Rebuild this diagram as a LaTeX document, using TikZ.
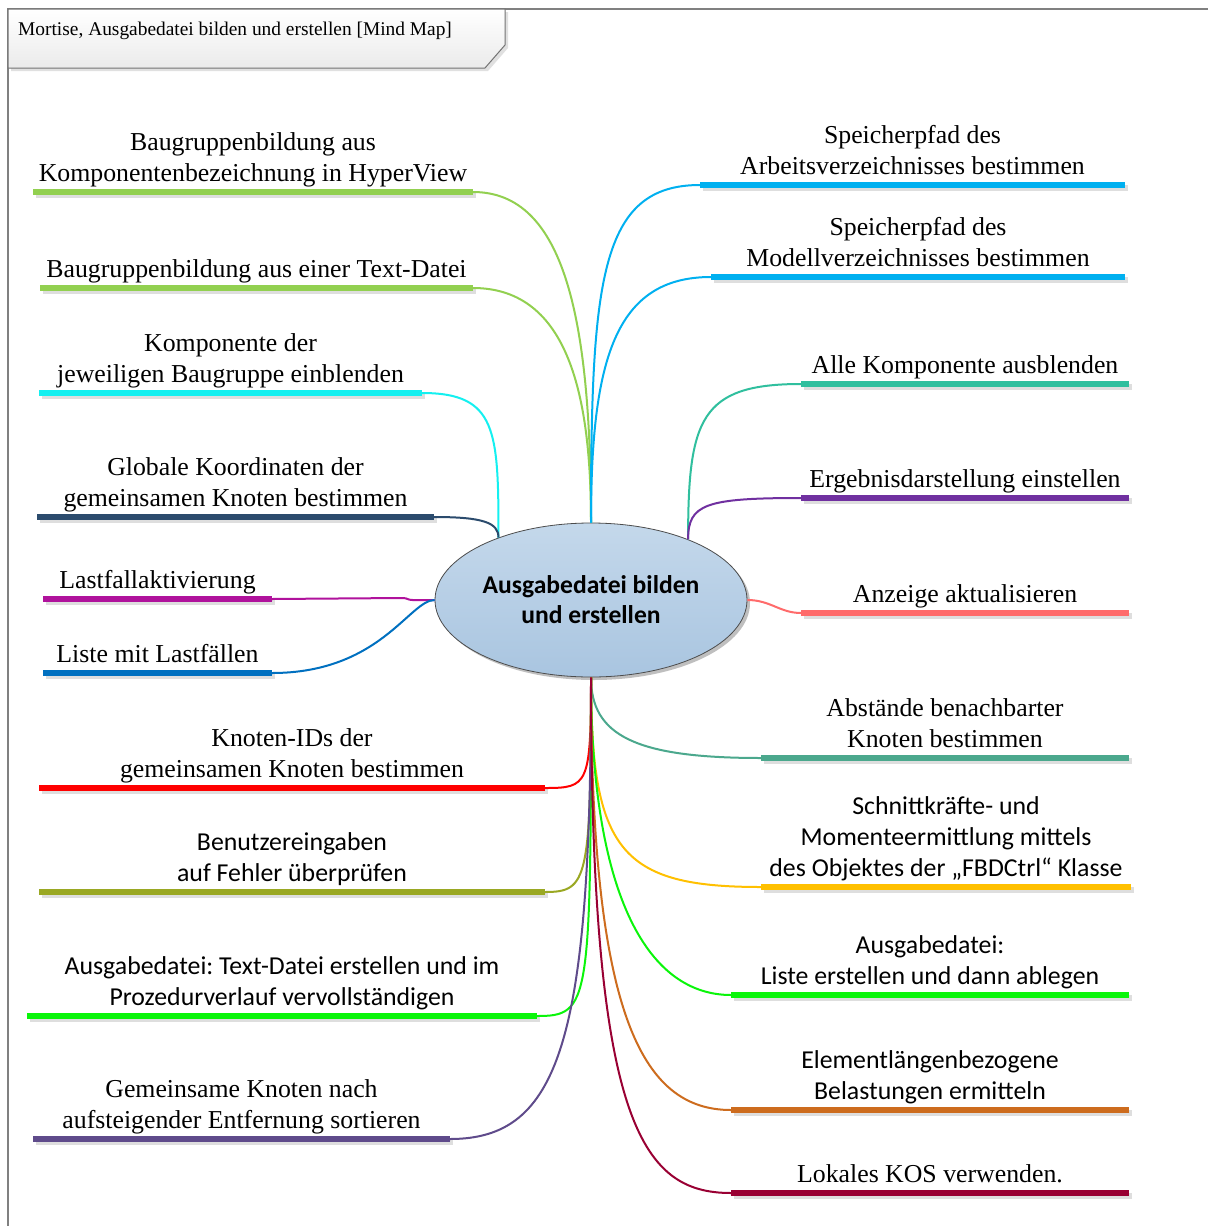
\documentclass[tikz,border=0pt]{standalone}
\usepackage{fontspec}
\setmainfont{Liberation Serif}
\newfontfamily\mmsans{Carlito}
\usetikzlibrary{shapes.geometric,shadows}
\frenchspacing

\definecolor{cGrass}{HTML}{92D050}
\definecolor{cAqua}{HTML}{14F0F0}
\definecolor{cNavy}{HTML}{2B4B6D}
\definecolor{cMagenta}{HTML}{B0129C}
\definecolor{cBlue}{HTML}{0070C0}
\definecolor{cRed}{HTML}{FF0000}
\definecolor{cOlive}{HTML}{9AA823}
\definecolor{cLime}{HTML}{0AF50A}
\definecolor{cPlum}{HTML}{5F4B8B}
\definecolor{cSky}{HTML}{00B0F0}
\definecolor{cTeal}{HTML}{30BF9E}
\definecolor{cViolet}{HTML}{7030A0}
\definecolor{cSalmon}{HTML}{FF6B6B}
\definecolor{cSea}{HTML}{4BA88D}
\definecolor{cAmber}{HTML}{FFC000}
\definecolor{cRust}{HTML}{CD6C1E}
\definecolor{cWine}{HTML}{990033}
\definecolor{cNodeTop}{HTML}{C4D8EB}
\definecolor{cNodeBot}{HTML}{A9C5E0}

\tikzset{
  lbl/.style={font=\fontsize{25.8}{31}\selectfont, align=center, inner sep=0pt, anchor=south},
  slbl/.style={lbl, font=\mmsans\fontsize{25.8}{31}\selectfont},
  conn/.style={line width=2pt},
  bar/.style={line width=6.5pt},
  barshadow/.style={line width=6.5pt, draw=black!13},
}

% one branch: shadowed coloured bar with its centred label above it
% #1 name, #2 colour, #3 left x, #4 right x, #5 bar y, #6 label style, #7 text
\newcommand\mmbranch[7]{%
  \draw[barshadow] (#3+3,#5+3) -- (#4+3,#5+3);
  \draw[bar,draw=#2] (#3,#5) coordinate (#1-l) -- (#4,#5) coordinate (#1-r);
  \node[#6] (#1) at ({(#3+#4)/2},#5-0.8) {#7\strut};
}

\begin{document}
\begin{tikzpicture}[x=1pt,y=-1pt]
\useasboundingbox (0,0) rectangle (1208,1226);
\fill[white] (0,0) rectangle (1208,1226);

% frame and title tab
\draw[black!50, line width=1.2pt] (8,1226) -- (8,9) -- (1208,9);
\fill[black!12] (11,12) -- (508,12) -- (508,48) -- (488,71) -- (11,71) -- cycle;
\shade[top color=white, bottom color=black!8, draw=black!55, line width=1pt]
  (8,9) -- (505,9) -- (505,45) -- (485,68) -- (8,68) -- cycle;
\node[font=\fontsize{19.4}{23}\selectfont, anchor=base west, inner sep=0pt] (title) at (18,35)
  {Mortise, Ausgabedatei bilden und erstellen [Mind Map]};

% left branches
\mmbranch{L1}{cGrass}{33}{473}{192}{lbl}{Baugruppenbildung aus\\Komponentenbezeichnung in HyperView}
\mmbranch{L2}{cGrass}{40}{473}{288}{lbl}{Baugruppenbildung aus einer Text-Datei}
\mmbranch{L3}{cAqua}{39}{422}{393}{lbl}{Komponente der\\jeweiligen Baugruppe einblenden}
\mmbranch{L4}{cNavy}{37}{434}{517}{lbl}{Globale Koordinaten der\\gemeinsamen Knoten bestimmen}
\mmbranch{L5}{cMagenta}{43}{272}{599}{lbl}{Lastfallaktivierung}
\mmbranch{L6}{cBlue}{43}{272}{673}{lbl}{Liste mit Lastfällen}
\mmbranch{L7}{cRed}{39}{545}{788}{lbl}{Knoten-IDs der\\gemeinsamen Knoten bestimmen}
\mmbranch{L8}{cOlive}{39}{545}{892}{slbl}{Benutzereingaben\\auf Fehler überprüfen}
\mmbranch{L9}{cLime}{27}{537}{1016}{slbl}{Ausgabedatei: Text-Datei erstellen und im\\Prozedurverlauf vervollständigen}
\mmbranch{L10}{cPlum}{33}{450}{1139}{lbl}{Gemeinsame Knoten nach\\aufsteigender Entfernung sortieren}

% right branches
\mmbranch{R1}{cSky}{700}{1125}{185}{lbl}{Speicherpfad des\\Arbeitsverzeichnisses bestimmen}
\mmbranch{R2}{cSky}{711}{1125}{277}{lbl}{Speicherpfad des\\Modellverzeichnisses bestimmen}
\mmbranch{R3}{cTeal}{801}{1129}{384}{lbl}{Alle Komponente ausblenden}
\mmbranch{R4}{cViolet}{801}{1129}{498}{lbl}{Ergebnisdarstellung einstellen}
\mmbranch{R5}{cSalmon}{801}{1129}{613}{lbl}{Anzeige aktualisieren}
\mmbranch{R6}{cSea}{761}{1129}{758}{lbl}{Abstände benachbarter\\Knoten bestimmen}
\mmbranch{R7}{cAmber}{761}{1131}{887}{slbl}{Schnittkräfte- und\\Momenteermittlung mittels\\des Objektes der „FBDCtrl“ Klasse}
\mmbranch{R8}{cLime}{731}{1129}{995}{slbl}{Ausgabedatei:\\Liste erstellen und dann ablegen}
\mmbranch{R9}{cRust}{731}{1129}{1110}{slbl}{Elementlängenbezogene\\Belastungen ermitteln}
\mmbranch{R10}{cWine}{731}{1129}{1193}{lbl}{Lokales KOS verwenden.}

% central topic
\node[ellipse, minimum width=312pt, minimum height=154pt, inner sep=0pt,
      top color=cNodeTop, bottom color=cNodeBot, draw=black!70, line width=0.8pt,
      drop shadow={shadow xshift=3pt, shadow yshift=-3pt, opacity=0.25, fill=black},
      align=center, font=\mmsans\bfseries\fontsize{25.6}{30}\selectfont]
  (c) at (591,600) {Ausgabedatei bilden\\und erstellen};

% connectors from the top
\draw[conn,cGrass] (c.north) .. controls +(0,-203) and +(92,0) .. (L1-r);
\draw[conn,cGrass] (c.north) .. controls +(0,-123) and +(97,0) .. (L2-r);
\draw[conn,cSky]   (c.north) .. controls +(0,-243) and +(-100,0) .. (R1-l);
\draw[conn,cSky]   (c.north) .. controls +(0,-163) and +(-96,0) .. (R2-l);
% upper left / upper right
\draw[conn,cAqua]  (c.146) .. controls +(0,-107) and +(75,0) .. (L3-r);
\draw[conn,cNavy]  (c.146) .. controls +(0,-15) and +(49,0) .. (L4-r);
\draw[conn,cTeal]  (c.32) .. controls +(0,-120) and +(-101,0) .. (R3-l);
\draw[conn,cViolet](c.32) .. controls +(0,-35) and +(-96,0) .. (R4-l);
% sides
\draw[conn,cMagenta] (c.west) -- ++(-22,0) .. controls +(-5,0) and +(5,0) .. ++(-10,-2) -- (L5-r);
\draw[conn,cBlue]  (c.west) .. controls +(-25,0) and +(108,0) .. (L6-r);
\draw[conn,cSalmon](c.east) .. controls +(23,0) and +(-21,0) .. (R5-l);
% from the bottom
\draw[conn,cRed]   (c.south) .. controls +(0,108) and +(43,0) .. (L7-r);
\draw[conn,cOlive] (c.south) .. controls +(0,203) and +(43,0) .. (L8-r);
\draw[conn,cLime]  (c.south) .. controls +(0,328) and +(53,0) .. (L9-r);
\draw[conn,cPlum]  (c.south) .. controls +(0,363) and +(110,0) .. (L10-r);
\draw[conn,cSea]   (c.south) .. controls +(0,58) and +(-126,0) .. (R6-l);
\draw[conn,cAmber] (c.south) .. controls +(0,173) and +(-141,0) .. (R7-l);
\draw[conn,cLime]  (c.south) .. controls +(0,223) and +(-81,0) .. (R8-l);
\draw[conn,cRust]  (c.south) .. controls +(0,333) and +(-91,0) .. (R9-l);
\draw[conn,cWine]  (c.south) .. controls +(0,443) and +(-91,0) .. (R10-l);
\end{tikzpicture}
\end{document}
